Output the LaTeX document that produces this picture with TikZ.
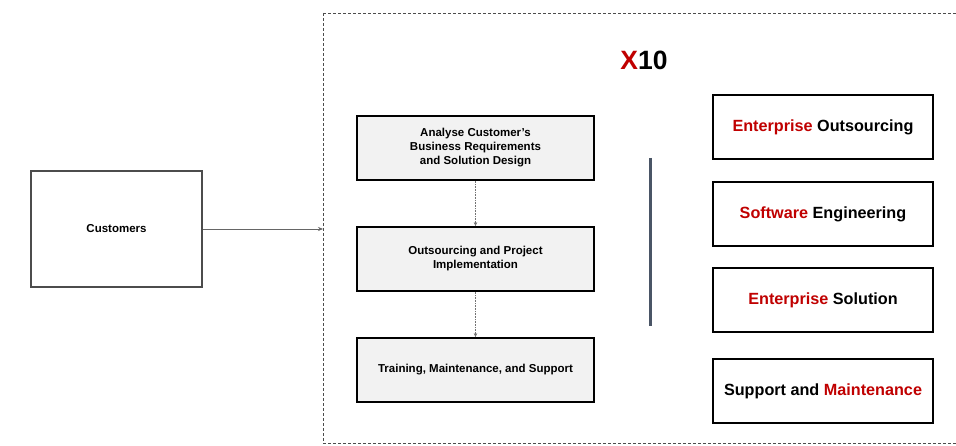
\documentclass[tikz,border=0pt]{standalone}
\usepackage{fontspec}
\setmainfont{Liberation Sans}
\usetikzlibrary{arrows.meta}
\definecolor{xred}{HTML}{C00000}
\definecolor{boxgray}{HTML}{F2F2F2}
\definecolor{slate}{HTML}{4A5566}
\begin{document}
\begin{tikzpicture}[x=1pt,y=-1pt,
  custbox/.style={draw=black!70,line width=2.2pt,fill=white,minimum width=171pt,minimum height=116pt,font=\bfseries\fontsize{11.5}{13}\selectfont},
  stepbox/.style={draw=black,line width=1.8pt,fill=boxgray,minimum width=237pt,minimum height=64pt,align=center,font=\bfseries\fontsize{11.5}{14}\selectfont},
  offerbox/.style={draw=black,line width=2pt,fill=white,minimum width=220pt,minimum height=64pt,font=\bfseries\fontsize{16.2}{18}\selectfont},
  flowarrow/.style={draw=black!60,line width=0.6pt,-{Stealth[length=5pt,width=4pt]}},
  dotarrow/.style={draw=black!55,line width=0.6pt,densely dotted,-{Stealth[length=4pt,width=3.5pt]}}
]
\useasboundingbox (0,0) rectangle (956,446);
\clip (0,0) rectangle (956,446);
\fill[white] (0,0) rectangle (956,446);
\draw[black!70,line width=0.7pt,dash pattern=on 3pt off 2pt] (323,13) -- (970,13) (323,443) -- (970,443) (323,13) -- (323,443);
\coordinate (din) at (323,229);

\node[custbox] (cust) at (116.5,229) {Customers};
\draw[flowarrow] (cust.east) -- (din);

\node[font=\bfseries\fontsize{26.5}{28}\selectfont] (x10) at (644,60) {\textcolor{xred}{X}10};

\node[stepbox] (s1) at (475.5,148) {Analyse Customer's\\Business Requirements\\and Solution Design};
\node[stepbox] (s2) at (475.5,259) {Outsourcing and Project\\Implementation};
\node[stepbox] (s3) at (475.5,370) {Training, Maintenance, and Support};
\draw[dotarrow] (s1.south) -- (s2.north);
\draw[dotarrow] (s2.south) -- (s3.north);

\coordinate (vt) at (650,158);
\coordinate (vb) at (650,326);
\draw[slate,line width=3pt] (vt) -- (vb);

\node[offerbox] (o1) at (823,127) {\textcolor{xred}{Enterprise} Outsourcing};
\node[offerbox] (o2) at (823,214) {\textcolor{xred}{Software} Engineering};
\node[offerbox] (o3) at (823,300) {\textcolor{xred}{Enterprise} Solution};
\node[offerbox] (o4) at (823,391) {Support and \textcolor{xred}{Maintenance}};
\end{tikzpicture}
\end{document}
